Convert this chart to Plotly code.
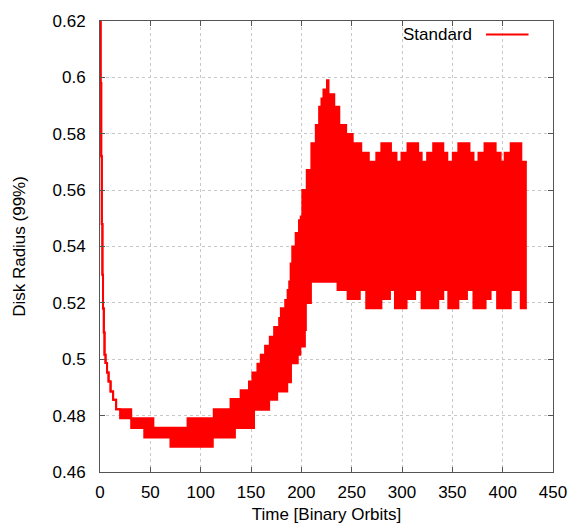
import plotly.graph_objects as go

# upper envelope of the oscillating radius (time in binary orbits, radius)
upper_t = [0, 0.6, 1.2, 1.8, 2.4, 3.0, 3.8, 4.5, 5.5, 7.0, 8.5, 10.5, 13, 16, 31, 53, 87,
           113, 129.7, 139.7, 148, 151.4, 156.4, 159.7, 164, 168.7, 173, 178, 179.7, 184,
           186.4, 188, 189.4, 191, 194.4, 197.7, 199.4, 201, 205.4, 210, 214.4, 217.7, 220,
           222, 225.5, 227, 232.7, 237.7, 244.5, 251, 259.5, 267, 274.5, 279.5, 289, 294.5,
           299.5, 305.5, 316, 319.5, 325, 331, 341, 345, 350.5, 356, 367, 371, 376, 382,
           393, 398, 402, 408, 418.5, 424]
upper_r = [0.620, 0.598, 0.572, 0.548, 0.530, 0.518, 0.5095, 0.5016, 0.4987, 0.4953, 0.4921,
           0.4886, 0.4856, 0.4823, 0.4791, 0.4757, 0.4791,
           0.4823, 0.4859, 0.4890, 0.4921, 0.4953, 0.4984, 0.5016, 0.5048, 0.5080, 0.5114,
           0.5146, 0.5181, 0.5210, 0.5246, 0.5276, 0.5340, 0.5400, 0.5448, 0.5493, 0.5506,
           0.5600, 0.5671, 0.5766, 0.5831, 0.5896, 0.5925, 0.5957, 0.5990, 0.5940, 0.5896,
           0.5831, 0.5799, 0.5766, 0.5733, 0.5701, 0.5733, 0.5766, 0.5733, 0.5701, 0.5733,
           0.5766, 0.5733, 0.5701, 0.5733, 0.5766, 0.5733, 0.5701, 0.5733, 0.5766, 0.5733,
           0.5701, 0.5733, 0.5766, 0.5733, 0.5701, 0.5733, 0.5766, 0.5701, 0.5701]

# lower envelope
lower_t = [0, 0.6, 1.2, 1.8, 2.4, 3.0, 3.8, 4.5, 5.5, 7.0, 8.5, 10.5, 13, 16, 20, 31, 44, 70,
           112, 134, 153, 168, 176, 186, 189.7, 196.4, 199, 203.5, 204.5, 209.5, 236, 246,
           258, 264.5, 279.5, 288, 293, 304.5, 313, 319.5, 336, 341, 346, 356, 364.5, 371,
           383, 388, 394.5, 408, 418, 424]
lower_r = [0.620, 0.598, 0.572, 0.548, 0.530, 0.518, 0.5095, 0.5016, 0.4987, 0.4953, 0.4921,
           0.4886, 0.4856, 0.4823, 0.4791, 0.4756, 0.4722, 0.4690,
           0.4722, 0.4756, 0.4821, 0.4856, 0.4886, 0.4918, 0.4986, 0.5016, 0.5045, 0.5104,
           0.5200, 0.5275, 0.5246, 0.5214, 0.5246, 0.5181, 0.5214, 0.5246, 0.5181, 0.5214,
           0.5246, 0.5181, 0.5214, 0.5246, 0.5181, 0.5214, 0.5246, 0.5181, 0.5214, 0.5246,
           0.5181, 0.5246, 0.5181, 0.5181]

x_ticks = [0, 50, 100, 150, 200, 250, 300, 350, 400, 450]
y_ticks = [0.46, 0.48, 0.50, 0.52, 0.54, 0.56, 0.58, 0.60, 0.62]
y_labels = ["0.46", "0.48", "0.5", "0.52", "0.54", "0.56", "0.58", "0.6", "0.62"]

RED = "#ff0000"
FONT = dict(family="Liberation Sans, Arial, sans-serif", size=17, color="black")

fig = go.Figure()
fig.add_trace(go.Scatter(x=lower_t, y=lower_r, mode="lines", line_shape="hv",
                         line=dict(color=RED, width=2), showlegend=False))
fig.add_trace(go.Scatter(x=upper_t, y=upper_r, mode="lines", line_shape="hv",
                         line=dict(color=RED, width=2), fill="tonexty",
                         fillcolor=RED, name="Standard", showlegend=False))

axis_common = dict(
    showline=True, linecolor="#555555", linewidth=1, mirror="allticks",
    ticks="inside", ticklen=5, tickcolor="#555555",
    showgrid=True, gridcolor="#c8c8c8", griddash="dot", gridwidth=1,
    zeroline=False, tickfont=FONT, automargin=False,
)

fig.update_xaxes(range=[0, 450], tickvals=x_ticks, ticklabelstandoff=5,
                 title=dict(text="Time [Binary Orbits]", font=FONT, standoff=6),
                 **axis_common)
fig.update_yaxes(range=[0.46, 0.62], tickvals=y_ticks, ticktext=y_labels,
                 ticklabelstandoff=10,
                 title=dict(text="Disk Radius (99%)", font=FONT, standoff=22),
                 **axis_common)

# gnuplot style key: text then line sample
fig.add_annotation(x=0.825, y=0.97, xref="paper", yref="paper", text="Standard",
                   showarrow=False, xanchor="right", yanchor="middle", font=FONT)
fig.add_shape(type="line", xref="paper", yref="paper", x0=0.852, x1=0.946,
              y0=0.97, y1=0.97, line=dict(color=RED, width=2))

fig.update_layout(
    width=570, height=525,
    margin=dict(l=100, r=17, t=21, b=53),
    plot_bgcolor="white", paper_bgcolor="white",
    font=FONT,
)

# drop the default page margin so the figure sits at the window's top-left
fig.write_html("out.html", config={"displayModeBar": False},
               post_script="document.body.style.margin='0';")
